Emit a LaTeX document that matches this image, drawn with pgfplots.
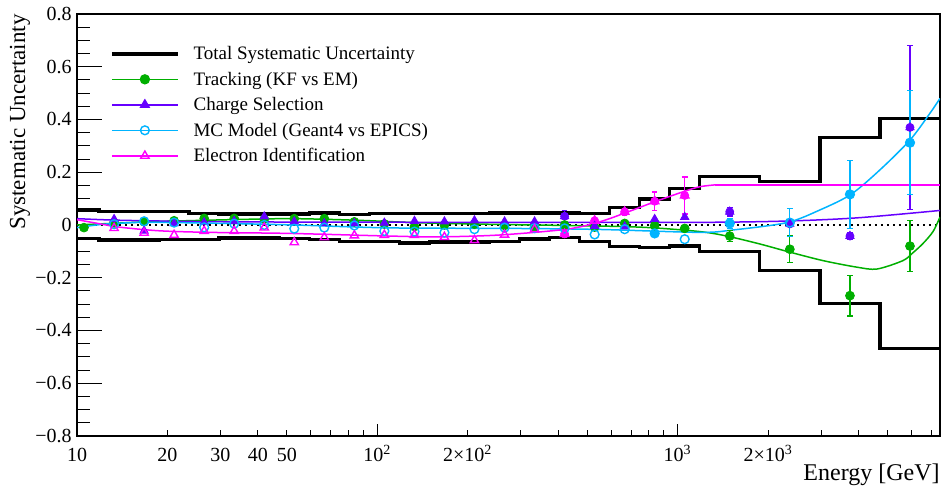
\documentclass[border=0pt]{standalone}
\usepackage{fontspec}
\setmainfont{Liberation Serif}
\usepackage{pgfplots}
\pgfplotsset{compat=1.18}
\definecolor{cTrk}{RGB}{0,175,0}
\definecolor{cChg}{RGB}{102,0,255}
\definecolor{cMC}{RGB}{0,180,255}
\definecolor{cEID}{RGB}{255,0,255}
\pgfplotsset{
  legend image code/.code={\draw[mark repeat=2,mark phase=2,#1] plot coordinates {(0pt,0pt) (16.5pt,0pt) (33pt,0pt)};},
}
\begin{document}
\begin{tikzpicture}
\begin{axis}[scale only axis, width=431.5pt, height=211pt, xmode=log,
  xmin=10, xmax=7469, ymin=-0.8, ymax=0.8,
  axis line style={line width=0.7pt},
  xtick=\empty,
  ytick={-0.8,-0.6,-0.4,-0.2,0,0.2,0.4,0.6,0.8},
  yticklabels={−0.8,−0.6,−0.4,−0.2,0,0.2,0.4,0.6,0.8},
  minor y tick num=3,
  ytick pos=left, tick align=inside,
  major tick length=12.5pt, minor tick length=6.5pt,
  tick style={line width=0.5pt, black},
  yticklabel style={font=\fontsize{10}{12}\selectfont, inner sep=2.5pt},
  ylabel={Systematic Uncertainty},
  ylabel style={font=\fontsize{11.5}{13}\selectfont, at={(axis description cs:-0.054,1)}, anchor=south east, inner sep=0pt},
  legend style={at={(axis description cs:0.038,0.935)}, anchor=north west, draw=none, fill=none,
    font=\fontsize{9.5}{12}\selectfont, inner sep=0pt, row sep=0.75pt,
    nodes={inner sep=1pt, text height=8pt, text depth=2pt},
    /tikz/every odd column/.append style={column sep=6pt}},
  legend cell align=left,
]
\addlegendimage{black, line width=1.7pt}
\addlegendentry{Total Systematic Uncertainty}
\addlegendimage{cTrk, line width=0.75pt, mark=*, mark size=2.2pt}
\addlegendentry{Tracking (KF vs EM)}
\addlegendimage{cChg, line width=0.75pt, mark=triangle*, mark size=2.4pt}
\addlegendentry{Charge Selection}
\addlegendimage{cMC, line width=0.75pt, mark=o, mark size=2.2pt, mark options={line width=0.7pt}}
\addlegendentry{MC Model (Geant4 vs EPICS)}
\addlegendimage{cEID, line width=0.75pt, mark=triangle, mark size=2.4pt, mark options={line width=0.7pt}}
\addlegendentry{Electron Identification}

% zero line
\addplot[forget plot, black, line width=0.9pt, dash pattern=on 0.9pt off 2.1pt] coordinates {(10,0) (7469,0)};

% total systematic (histogram)
\addplot[forget plot, const plot, black, line width=1.7pt] table[row sep=\\]{
x y\\
10 0.057\\ 11.84 0.050\\ 14.90 0.050\\ 18.76 0.050\\ 23.62 0.044\\ 29.73 0.041\\ 37.45 0.041\\
47.14 0.042\\ 59.33 0.046\\ 74.69 0.040\\ 94.03 0.044\\ 118.4 0.044\\ 149.0 0.044\\ 187.6 0.044\\
236.2 0.046\\ 297.3 0.046\\ 374.5 0.046\\ 471.4 0.043\\ 593.3 0.066\\ 746.9 0.099\\ 940.3 0.139\\
1184 0.183\\ 1876 0.164\\ 2973 0.332\\ 4714 0.404\\ 7469 0.404\\
};
\addplot[forget plot, const plot, black, line width=1.7pt] table[row sep=\\]{
x y\\
10 -0.051\\ 11.84 -0.057\\ 14.90 -0.057\\ 18.76 -0.056\\ 23.62 -0.056\\ 29.73 -0.050\\ 37.45 -0.050\\
47.14 -0.051\\ 59.33 -0.054\\ 74.69 -0.062\\ 94.03 -0.062\\ 118.4 -0.068\\ 149.0 -0.064\\ 187.6 -0.064\\
236.2 -0.062\\ 297.3 -0.053\\ 374.5 -0.047\\ 471.4 -0.062\\ 593.3 -0.082\\ 746.9 -0.085\\ 940.3 -0.079\\
1184 -0.100\\ 1876 -0.173\\ 2973 -0.297\\ 4714 -0.468\\ 7469 -0.468\\
};

% ---- fit curves ----
\addplot[forget plot, cTrk, line width=0.75pt, smooth] table[row sep=\\]{
x y\\
10 0.000\\ 17.38 0.012\\ 32.12 0.020\\ 51.68 0.024\\ 85.11 0.018\\ 141.3 0.008\\ 255.1 0.002\\
549.5 -0.004\\ 806.6 -0.010\\ 1184 -0.025\\ 1457 -0.042\\ 1876 -0.072\\ 2309 -0.100\\ 3043 -0.135\\
3951 -0.160\\ 4606 -0.167\\ 5623 -0.135\\ 6073 -0.105\\ 6557 -0.070\\ 7079 -0.025\\ 7468 0.030\\
};
\addplot[forget plot, cChg, line width=0.75pt, smooth] table[row sep=\\]{
x y\\
10 0.024\\ 13.80 0.018\\ 25.51 0.013\\ 54.95 0.011\\ 255.1 0.010\\ 1184 0.010\\ 2309 0.015\\
3951 0.027\\ 7468 0.055\\
};
\addplot[forget plot, cMC, line width=0.75pt, smooth] table[row sep=\\]{
x y\\
10 -0.010\\ 12.30 0.003\\ 16.34 0.010\\ 21.05 0.009\\ 30.90 0.006\\ 52.89 0.000\\ 109.6 -0.011\\
275.4 -0.013\\ 549.5 -0.017\\ 1184 -0.028\\ 1525 -0.019\\ 2309 0.009\\ 2974 0.057\\ 3773 0.116\\
4713 0.209\\ 5933 0.322\\ 6918 0.424\\ 7468 0.480\\
};
\addplot[forget plot, cEID, line width=0.75pt, smooth] table[row sep=\\]{
x y\\
10 0.020\\ 11.84 0.005\\ 13.80 -0.008\\ 18.76 -0.022\\ 27.54 -0.028\\ 50.88 -0.032\\ 109.6 -0.042\\
160.9 -0.045\\ 255.1 -0.038\\ 426.6 -0.016\\ 549.5 0.012\\ 665.9 0.045\\ 838.0 0.088\\ 1055 0.128\\
1184 0.145\\ 1329 0.152\\
};
\addplot[forget plot, cEID, line width=0.75pt] coordinates {(1329,0.152) (7469,0.152)};

% ---- error bars ----
\addplot[forget plot, cTrk, only marks, mark=none,
  error bars/.cd, y dir=both, y explicit, error bar style={line width=0.6pt},
  error mark options={rotate=90, mark size=1.4pt, line width=0.6pt}]
  table[row sep=\\, y error=e]{
x y e\\ 1055 -0.013 0.008\\ 1490 -0.042 0.021\\ 2362 -0.092 0.050\\ 3745 -0.268 0.077\\ 5933 -0.080 0.097\\
};
\addplot[forget plot, cChg, only marks, mark=none,
  error bars/.cd, y dir=both, y explicit, error bar style={line width=0.6pt},
  error mark options={rotate=90, mark size=1.4pt, line width=0.6pt}]
  table[row sep=\\, y error=e]{
x y e\\ 420.1 0.033 0.022\\ 1490 0.050 0.016\\ 2362 0.004 0.006\\ 3745 -0.042 0.012\\ 5933 0.370 0.311\\
};
\addplot[forget plot, cMC, only marks, mark=none,
  error bars/.cd, y dir=both, y explicit, error bar style={line width=0.6pt},
  error mark options={rotate=90, mark size=1.4pt, line width=0.6pt}]
  table[row sep=\\, y error=e]{
x y e\\ 838.0 -0.032 0.012\\ 1490 0.006 0.018\\ 2362 0.009 0.054\\ 3745 0.116 0.128\\ 5933 0.312 0.197\\
};
\addplot[forget plot, cEID, only marks, mark=none,
  error bars/.cd, y dir=both, y explicit, error bar style={line width=0.6pt},
  error mark options={rotate=90, mark size=1.4pt, line width=0.6pt}]
  table[row sep=\\, y error=e]{
x y e\\ 420.1 -0.034 0.012\\ 528.9 0.016 0.010\\ 665.9 0.050 0.013\\ 838.0 0.090 0.035\\ 1055 0.112 0.070\\
};

% ---- points ----
\addplot[forget plot, cTrk, only marks, mark=*, mark size=2.2pt] table[row sep=\\]{
x y\\
10.55 -0.010\\ 13.29 0.008\\ 16.73 0.012\\ 21.05 0.016\\ 26.51 0.025\\ 33.37 0.025\\ 42.02 0.022\\
52.89 0.024\\ 66.59 0.024\\ 83.83 0.012\\ 105.5 0.004\\ 132.9 -0.006\\ 167.2 0.000\\ 210.5 0.003\\
265.1 -0.002\\ 333.7 -0.009\\ 420.1 0.000\\ 528.9 -0.008\\ 665.9 0.006\\ 838.0 -0.002\\ 1055 -0.013\\
1490 -0.042\\ 2362 -0.092\\ 3745 -0.268\\ 5933 -0.080\\
};
\addplot[forget plot, cChg, only marks, mark=triangle*, mark size=2.4pt] table[row sep=\\]{
x y\\
13.29 0.022\\ 16.73 -0.022\\ 21.05 0.006\\ 26.51 0.010\\ 33.37 0.015\\ 42.02 0.032\\ 52.89 0.013\\
66.59 0.006\\ 83.83 0.006\\ 105.5 0.008\\ 132.9 0.015\\ 167.2 0.013\\ 210.5 0.017\\ 265.1 0.013\\
333.7 0.013\\ 420.1 0.033\\ 528.9 -0.004\\ 665.9 -0.006\\ 838.0 0.022\\ 1055 0.030\\ 1490 0.050\\
2362 0.004\\ 3745 -0.042\\ 5933 0.370\\
};
\addplot[forget plot, cMC, only marks, mark=o, mark size=2.2pt, mark options={line width=0.7pt}] table[row sep=\\]{
x y\\
13.29 0.003\\ 16.73 0.014\\ 21.05 0.009\\ 26.51 -0.009\\ 33.37 0.005\\ 42.02 0.000\\ 52.89 -0.014\\
66.59 -0.010\\ 83.83 -0.002\\ 105.5 -0.023\\ 132.9 -0.025\\ 167.2 -0.029\\ 210.5 -0.016\\ 265.1 -0.010\\
333.7 -0.012\\ 420.1 -0.013\\ 528.9 -0.036\\ 665.9 -0.016\\ 838.0 -0.032\\ 1055 -0.054\\ 1490 0.006\\
2362 0.009\\ 3745 0.116\\ 5933 0.312\\
};
\addplot[forget plot, cEID, only marks, mark=triangle, mark size=2.4pt, mark options={line width=0.7pt}] table[row sep=\\]{
x y\\
13.29 -0.012\\ 16.73 -0.030\\ 21.05 -0.038\\ 26.51 -0.023\\ 33.37 -0.023\\ 42.02 -0.010\\ 52.89 -0.066\\
66.59 -0.047\\ 83.83 -0.040\\ 105.5 -0.038\\ 132.9 -0.038\\ 167.2 -0.046\\ 210.5 -0.058\\ 265.1 -0.037\\
333.7 -0.016\\ 420.1 -0.034\\ 528.9 0.016\\ 665.9 0.050\\ 838.0 0.090\\ 1055 0.112\\
};
\coordinate (ll) at (rel axis cs:0,0);
\coordinate (ur) at (rel axis cs:1,1);
\end{axis}

% second axis: x tick labels, short ticks
\begin{axis}[scale only axis, width=431.5pt, height=211pt, xmode=log,
  xmin=10, xmax=7469, ymin=-0.8, ymax=0.8,
  axis line style={draw=none},
  ytick=\empty,
  xtick pos=bottom, tick align=inside,
  xtick={10,20,30,40,50,100,200,1000,2000},
  xticklabels={10,20,30,40,50,10\textsuperscript{2},2×10\textsuperscript{2},10\textsuperscript{3},2×10\textsuperscript{3}},
  minor xtick={60,70,80,90,300,400,500,600,700,800,900,3000,4000,5000,6000,7000},
  major tick length=3pt, minor tick length=3pt,
  tick style={line width=0.5pt, black},
  xticklabel style={font=\fontsize{10}{12}\selectfont, anchor=base, yshift=-13pt},
  xlabel={Energy [GeV]},
  xlabel style={font=\fontsize{12}{14}\selectfont, at={(axis description cs:1,-0.064)}, anchor=north east, inner sep=0pt},
]
\end{axis}
% third axis: long ticks at decades
\begin{axis}[scale only axis, width=431.5pt, height=211pt, xmode=log,
  xmin=10, xmax=7469, ymin=-0.8, ymax=0.8,
  axis line style={draw=none},
  ytick=\empty,
  xtick pos=bottom, tick align=inside,
  xtick={10,100,1000}, xticklabels={},
  major tick length=6pt,
  tick style={line width=0.5pt, black},
]
\end{axis}
\pgfresetboundingbox
\path ([xshift=-38.5pt,yshift=-27pt]ll) rectangle ([xshift=3pt,yshift=7pt]ur);
\end{tikzpicture}
\end{document}
